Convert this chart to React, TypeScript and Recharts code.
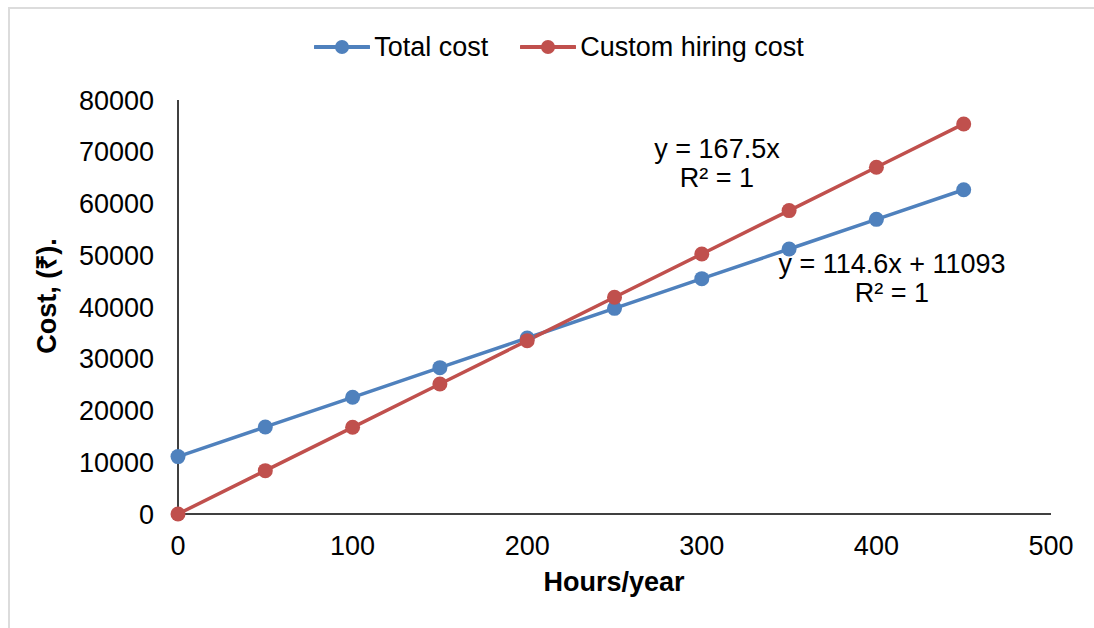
import React from 'react';
import { LineChart, Line, XAxis, YAxis, Legend } from 'recharts';

const hours = [0, 50, 100, 150, 200, 250, 300, 350, 400, 450];
const totalCost = [11093, 16823, 22553, 28283, 34013, 39743, 45473, 51203, 56933, 62663];
const customHiringCost = [0, 8375, 16750, 25125, 33500, 41875, 50250, 58625, 67000, 75375];
const xTicks = [0, 100, 200, 300, 400, 500];
const yTicks = [0, 10000, 20000, 30000, 40000, 50000, 60000, 70000, 80000];

const BLUE = '#4F81BD';
const RED = '#C0504D';
const FONT = '"Liberation Sans", Arial, sans-serif';
const FS = 27;

const data = hours.map((h, i) => ({ hours: h, total: totalCost[i], custom: customHiringCost[i] }));

const legendItems = [
  { label: 'Total cost', color: BLUE },
  { label: 'Custom hiring cost', color: RED },
];

const renderLegend = () => (
  <div style={{ display: 'flex', justifyContent: 'center', alignItems: 'center', fontFamily: FONT, fontSize: FS, lineHeight: '30px', color: '#000', paddingLeft: 24 }}>
    {legendItems.map((it, i) => (
      <div key={it.label} style={{ display: 'flex', alignItems: 'center', marginLeft: i ? 32 : 0 }}>
        <svg width={56} height={20} style={{ marginRight: 4 }}>
          <line x1={1} y1={10} x2={55} y2={10} stroke={it.color} strokeWidth={4} strokeLinecap="round" />
          <circle cx={28} cy={10} r={7} fill={it.color} />
        </svg>
        <span>{it.label}</span>
      </div>
    ))}
  </div>
);

const noteStyle: React.CSSProperties = {
  position: 'absolute',
  fontFamily: FONT,
  fontSize: FS,
  lineHeight: '29px',
  textAlign: 'center',
  color: '#000',
  transform: 'translateX(-50%)',
  whiteSpace: 'nowrap',
};

export default function App() {
  return (
    <div style={{ position: 'absolute', left: 0, top: 0, width: 1094, height: 628, background: '#fff', overflow: 'hidden' }}>
      <div style={{ position: 'absolute', left: 8, top: 7, width: 1200, height: 700, border: '2px solid #dcdcdc' }} />
      <LineChart
        width={1094}
        height={628}
        data={data}
        margin={{ top: 70, right: 43, bottom: 74, left: 98 }}
        style={{ position: 'absolute', left: 0, top: 0 }}
      >
        <XAxis
          dataKey="hours"
          type="number"
          domain={[0, 500]}
          ticks={xTicks}
          height={40}
          tickSize={0}
          tickMargin={22}
          tickLine={false}
          axisLine={{ stroke: '#000', strokeWidth: 1.5 }}
          tick={{ fill: '#000', fontSize: FS, fontFamily: FONT }}
        />
        <YAxis
          type="number"
          domain={[0, 80000]}
          ticks={yTicks}
          width={80}
          tickSize={0}
          tickMargin={24}
          tickLine={false}
          axisLine={{ stroke: '#000', strokeWidth: 1.5 }}
          tick={{ fill: '#000', fontSize: FS, fontFamily: FONT }}
        />
        <Legend
          verticalAlign="top"
          height={30}
          content={renderLegend}
          wrapperStyle={{ top: 32, left: 0, width: 1094 }}
        />
        <Line
          dataKey="total"
          name="Total cost"
          stroke={BLUE}
          strokeWidth={3.5}
          dot={{ r: 7.5, fill: BLUE, stroke: BLUE, strokeWidth: 0 }}
          isAnimationActive={false}
        />
        <Line
          dataKey="custom"
          name="Custom hiring cost"
          stroke={RED}
          strokeWidth={3.5}
          dot={{ r: 7.5, fill: RED, stroke: RED, strokeWidth: 0 }}
          isAnimationActive={false}
        />
      </LineChart>
      <div style={{ ...noteStyle, left: 717, top: 135 }}>
        y = 167.5x<br />R² = 1
      </div>
      <div style={{ ...noteStyle, left: 892, top: 250 }}>
        y = 114.6x + 11093<br />R² = 1
      </div>
      <div
        style={{
          position: 'absolute',
          left: 45,
          top: 296,
          transform: 'translate(-50%, -50%) rotate(-90deg)',
          fontFamily: FONT,
          fontSize: FS,
          fontWeight: 'bold',
          whiteSpace: 'nowrap',
          color: '#000',
        }}
      >
        Cost, (₹).
      </div>
      <div
        style={{
          position: 'absolute',
          left: 614,
          top: 567,
          transform: 'translateX(-50%)',
          fontFamily: FONT,
          fontSize: FS,
          fontWeight: 'bold',
          whiteSpace: 'nowrap',
          color: '#000',
        }}
      >
        Hours/year
      </div>
    </div>
  );
}
